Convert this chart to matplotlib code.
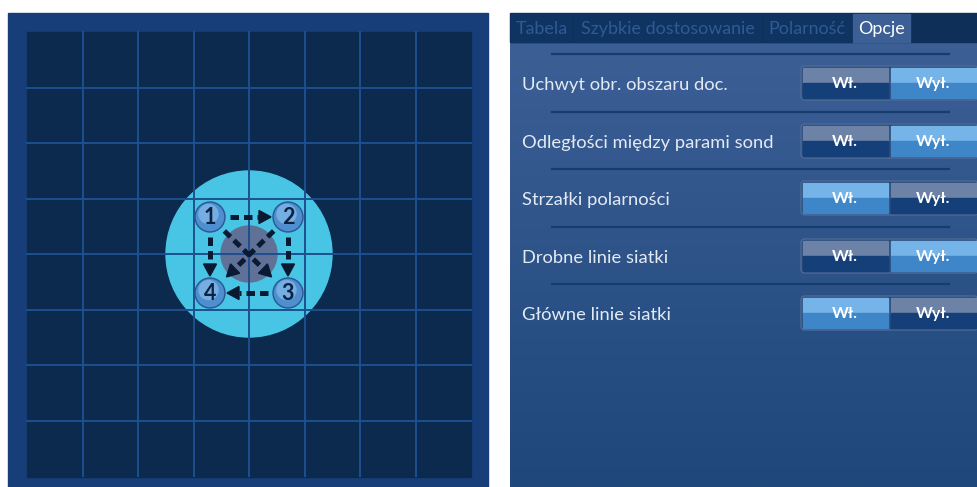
import numpy as np
import matplotlib
matplotlib.use("Agg")
import matplotlib.pyplot as plt
from matplotlib.patches import Rectangle, Circle, FancyBboxPatch, Polygon

plt.rcParams['font.family'] = ['Lato', 'DejaVu Sans']

# grid panel data
n_cells = 8
grid_x0, grid_y0, grid_size = 27, 32, 444
zone_center = (249, 254)
zone_radius = 83
core_radius = 28
probe_labels = ["1", "2", "3", "4"]
probe_x = [210, 288, 288, 210]
probe_y = [217, 217, 293, 293]
# arrows as (from probe, to probe)
arrows = [(0, 1), (1, 2), (2, 3), (0, 3), (0, 2), (1, 3)]

# options panel data
tabs = ["Tabela", "Szybkie dostosowanie", "Polarność", "Opcje"]
tab_edges = [510, 573, 762, 852, 911]
active_tab = 3
options = ["Uchwyt obr. obszaru doc.", "Odległości między parami sond",
           "Strzałki polarności", "Drobne linie siatki", "Główne linie siatki"]
option_y = [83, 141, 198, 256, 313]
option_on = [False, False, True, False, True]
on_label, off_label = "Wł.", "Wył."

fig = plt.figure(figsize=(9.78, 4.87), dpi=100)
ax = fig.add_axes([0, 0, 1, 1])
ax.set_xlim(0, 978)
ax.set_ylim(487, 0)
ax.axis('off')

# ---- left panel ----
ax.add_patch(Rectangle((8, 13), 480, 474, color='#173e78', zorder=0))
ax.add_patch(Rectangle((grid_x0, grid_y0), grid_size, grid_size + 1, color='#0c2a4d', zorder=1))
ax.add_patch(Circle(zone_center, zone_radius, color='#48c5e5', zorder=2))
ax.add_patch(Circle(zone_center, core_radius, color='#5f7196', zorder=3))
step = grid_size / n_cells
for i in range(1, n_cells):
    p = grid_x0 + i * step
    ax.plot([p, p], [grid_y0, grid_y0 + grid_size], color='#1d5090', lw=1.4, zorder=4)
    q = grid_y0 + i * step
    ax.plot([grid_x0, grid_x0 + grid_size], [q, q], color='#1d5090', lw=1.4, zorder=4)

for a, b in arrows:
    x0, y0, x1, y1 = probe_x[a], probe_y[a], probe_x[b], probe_y[b]
    d = np.hypot(x1 - x0, y1 - y0)
    diag = abs(x1 - x0) > 1 and abs(y1 - y0) > 1
    ux, uy = (x1 - x0) / d, (y1 - y0) / d
    sx, sy = x0 + ux * 20, y0 + uy * 20
    end = 23 if diag else 17
    tx, ty = x1 - ux * end, y1 - uy * end
    hx, hy = tx - ux * 12, ty - uy * 12
    ax.plot([sx, hx], [sy, hy], color='#0a1a33', lw=3.6, ls=(0, (1.7, 1.0)), zorder=5)
    px, py = -uy, ux
    ax.add_patch(Polygon([(tx, ty), (hx + px * 6.5, hy + py * 6.5), (hx - px * 6.5, hy - py * 6.5)],
                         color='#0a1a33', zorder=5))

for lab, x, y in zip(probe_labels, probe_x, probe_y):
    ax.add_patch(Circle((x, y), 15, color='#2b5a96', zorder=6))
    ax.add_patch(Circle((x, y), 13.5, color='#4f8fd0', zorder=6))
    ax.add_patch(Circle((x - 1.5, y - 3), 9.5, color='#74aee3', zorder=6))
    ax.text(x, y + 1, lab, ha='center', va='center', fontsize=15.5, fontweight='bold',
            color='#0d2142', zorder=7)

# ---- right panel ----
grad = np.linspace(0, 1, 200)[:, None]
cmap = matplotlib.colors.LinearSegmentedColormap.from_list('p', ['#3c5f96', '#1e477b'])
ax.imshow(grad, extent=(510, 978, 487, 42), cmap=cmap, aspect='auto', zorder=0)
ax.add_patch(Rectangle((510, 13), 468, 29, color='#0e2f57', zorder=1))
for i, name in enumerate(tabs):
    l, r = tab_edges[i], tab_edges[i + 1]
    if i == active_tab:
        ax.add_patch(Rectangle((l + 1, 14), r - l - 2, 28, color='#3c5f96', zorder=2))
        col = 'white'
    else:
        ax.add_patch(Rectangle((l + 1, 14), r - l - 2, 28, color='#103462', zorder=2))
        col = '#2e5b94'
    ax.text((l + r) / 2, 29, name, ha='center', va='center', fontsize=12.9, color=col, zorder=3)

for k in range(len(options)):
    ax.plot([552, 949], [option_y[k] - 29, option_y[k] - 29], color='#153d70', lw=1.6, zorder=2)

for name, y, on in zip(options, option_y, option_on):
    ax.text(522, y + 2, name, ha='left', va='center', fontsize=13.2, color='#e4eaf4', zorder=3)
    ax.add_patch(FancyBboxPatch((801, y - 17), 177, 34, boxstyle='round,pad=0,rounding_size=4',
                                fc='#2a4a7a', ec='#4d6b98', lw=1, zorder=2))
    halves = [(801, 889, on, on_label), (889, 978, not on, off_label)]
    for l, r, lit, lab in halves:
        top, bot = ('#74b4e8', '#3f86c8') if lit else ('#6c82a6', '#143f78')
        ax.add_patch(Rectangle((l + 2, y - 15), r - l - 3, 15, color=top, zorder=3))
        ax.add_patch(Rectangle((l + 2, y), r - l - 3, 15, color=bot, zorder=3))
        ax.text((l + r) / 2, y + 1, lab, ha='center', va='center', fontsize=11.5,
                fontweight='bold', color='white', zorder=4)

fig.savefig('out.png', dpi=100, facecolor='white')
